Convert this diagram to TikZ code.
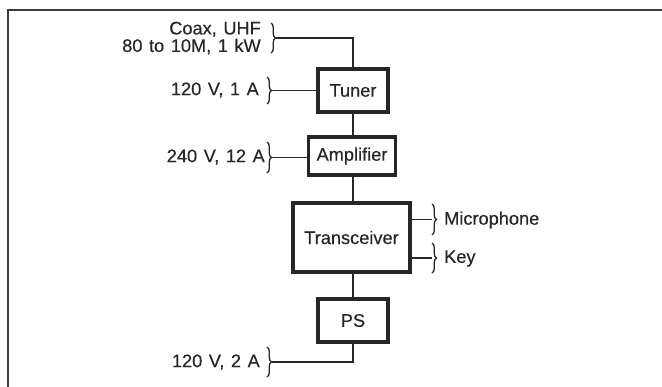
\documentclass[tikz,border=0pt]{standalone}
\usepackage{fontspec}
\setmainfont[WordSpace=1.3, FakeBold=0.3]{Liberation Sans}
\usetikzlibrary{decorations.pathreplacing}
\definecolor{ink}{HTML}{262626}
\begin{document}
\begin{tikzpicture}[x=1pt,y=-1pt,
  every node/.style={font=\fontsize{18.2}{20}\selectfont, text=ink},
  unit/.style={draw=ink, line width=3.6pt, inner sep=0pt, fill=white},
  wire/.style={draw=ink, line width=1.5pt},
  brc/.style={draw=ink, line width=1.3pt, decorate, decoration={brace, amplitude=4.5pt}},
  lbl/.style={inner sep=0pt}]
\useasboundingbox (0,0) rectangle (662,386);
\fill[white] (0,0) rectangle (662,386);
% frame (partly outside the picture)
\draw[draw=ink!90, line width=2.5pt] (8,400) -- (8,10) -- (680,10);
% units
\node[unit, minimum width=70pt, minimum height=43pt] (tuner) at (353,90.5) {Tuner};
\node[unit, minimum width=87pt, minimum height=38pt] (amp) at (352,156) {Amplifier};
\node[unit, minimum width=117pt, minimum height=69pt] (trx) at (351.5,237.5) {Transceiver};
\node[unit, minimum width=70pt, minimum height=43pt] (ps) at (353,320.5) {PS};
% labels
\node[lbl, anchor=east, align=right] (coax) at (261,38) {Coax, UHF\\[-2.5pt]80 to 10M, 1 kW};
\node[lbl, anchor=east] (l1) at (259,90) {120 V, 1 A};
\node[lbl, anchor=east] (l2) at (265,157) {240 V, 12 A};
\node[lbl, anchor=east] (l3) at (260,362) {120 V, 2 A};
\node[lbl, anchor=west] (mic) at (444,220) {Microphone};
\node[lbl, anchor=west] (key) at (444,258.5) {Key};
% braces
\draw[brc] (271,23) -- (271,53);
\draw[brc] (267,77) -- (267,104);
\draw[brc] (267,142) -- (267,173);
\draw[brc] (267,347) -- (267,377);
\draw[brc] (432,204) -- (432,235);
\draw[brc] (432,243) -- (432,273);
\coordinate (pcoax) at (276,38);
\coordinate (p1) at (272,90.5);
\coordinate (p2) at (272,157.5);
\coordinate (p3) at (272,362);
\coordinate (pm) at (432,219.5);
\coordinate (pk) at (432,258);
% wires
\draw[wire] (pcoax) -| (tuner.north);
\draw[wire] (p1) -- (tuner.west |- p1);
\draw[wire] (tuner.south) -- (amp.north -| tuner.south);
\draw[wire] (p2) -- (amp.west |- p2);
\draw[wire] (amp.south -| tuner.south) -- (trx.north -| tuner.south);
\draw[wire] (trx.south -| ps.north) -- (ps.north);
\draw[wire] (ps.south) |- (p3);
\draw[wire] (trx.east |- pm) -- (pm);
\draw[wire] (trx.east |- pk) -- (pk);
\end{tikzpicture}
\end{document}
